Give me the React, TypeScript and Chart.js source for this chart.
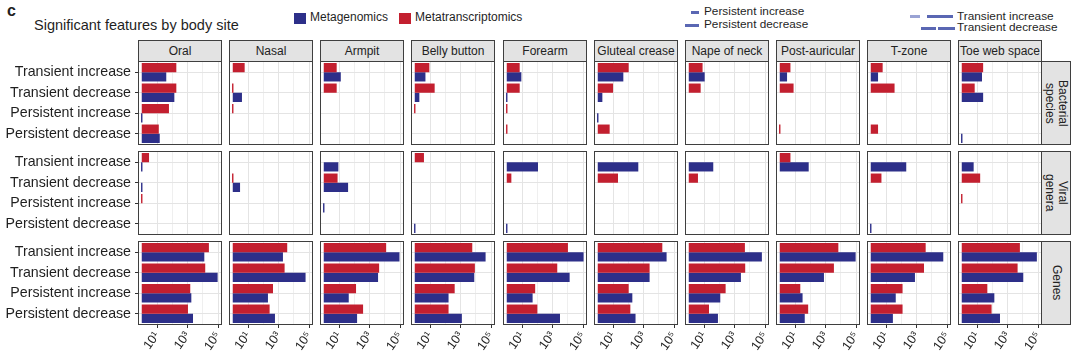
import React, { useEffect, useRef } from "react";
import { Chart, registerables } from "chart.js";
Chart.register(...registerables);

// ---------- data ----------
const categories = ["Transient increase", "Transient decrease", "Persistent increase", "Persistent decrease"];
const sites = ["Oral", "Nasal", "Armpit", "Belly button", "Forearm", "Gluteal crease", "Nape of neck", "Post-auricular", "T-zone", "Toe web space"];
const featureRows = [["Bacterial", "species"], ["Viral", "genera"], ["Genes"]];
const xTickValues = [10, 100, 1000, 10000, 100000];
const xTickLabels = ["10¹", "", "10³", "", "10⁵"];

// each inner array: [Transient increase, Transient decrease, Persistent increase, Persistent decrease] per site
const bacteriaMetagenomics = [
  [40, 135, 1, 15], [null, 4, null, null], [13, null, null, null], [5, 2, null, null], [9, 1, null, null],
  [47, 2, 1, null], [11, null, null, null], [3, null, null, null], [3, null, null, null], [21, 25, null, 1],
];
const bacteriaMetatranscriptomics = [
  [182, 182, 60, 13], [6, 1, 1, null], [7, 7, null, null], [9, 20, 1, null], [7, 7, 1, 1],
  [105, 10, null, 6], [8, 6, null, null], [5, 8, null, 1], [6, 36, null, 3], [25, 7, null, null],
];
const viralMetagenomics = [
  [1, 1, null, null], [null, 3, null, null], [9, 39, 1, null], [null, null, null, 1], [110, null, null, 1],
  [447, null, null, null], [40, null, null, null], [78, null, null, null], [209, null, null, 1], [6, null, null, null],
];
const viralMetatranscriptomics = [
  [3, null, 1, null], [null, 1, null, null], [null, 8, null, null], [4, null, null, null], [null, 2, null, null],
  [null, 21, null, null], [null, 4, null, null], [5, null, null, null], [null, 5, null, null], [null, 16, 1, null],
];
const genesMetagenomics = [
  [12300, 91200, 1740, 2240], [1910, 57500, 200, 575], [89100, 3550, 43, 151], [42700, 7760, 162, 1200],
  [105000, 12900, 49, 3020], [31600, 2450, 182, 295], [60300, 2570, 115, 81], [91200, 776, 31, 43],
  [55000, 776, 43, 28], [81300, 10500, 135, 316],
];
const genesMetatranscriptomics = [
  [24500, 14100, 1480, 1050], [3630, 2450, 427, 257], [12000, 4170, 129, 372], [5750, 8510, 407, 162],
  [10000, 2000, 72, 100], [16600, 2450, 105, 135], [4680, 4900, 257, 21], [6760, 3470, 22, 72],
  [3890, 3020, 120, 120], [6310, 4470, 47, 89],
];

const metagenomicsByRow = [bacteriaMetagenomics, viralMetagenomics, genesMetagenomics];
const metatranscriptomicsByRow = [bacteriaMetatranscriptomics, viralMetatranscriptomics, genesMetatranscriptomics];

// ---------- style / layout ----------
const BLUE = "#2d2f89";
const RED = "#c31f2f";
const GRID_MAJOR = "#e4e4e4";
const GRID_MINOR = "#efefef";
const BORDER = "#3f3f3f";
const STRIP_BG = "#e3e3e3";
const FONT = "'Liberation Sans', Arial, Helvetica, sans-serif";
const TEXT = "#1f1f1f";

const PANEL = 84;
const colLeft = (c: number) => Math.round(138 + 91.13 * c);
const ROW_TOPS = [61, 151, 241];
const STRIP_TOP = 40;
const BOTTOM_AXIS_H = 36;

function Panel({ row, col }: { row: number; col: number }) {
  const ref = useRef<HTMLCanvasElement>(null);
  const L = colLeft(col);
  const T = ROW_TOPS[row];
  const isLeft = col === 0;
  const isBottom = row === 2;
  const yAxisW = isLeft ? L + 1 : 0;
  const xAxisH = isBottom ? BOTTOM_AXIS_H : 0;
  const inner = PANEL - 2;
  const cw = yAxisW + inner;
  const ch = inner + xAxisH;
  const canvasLeft = isLeft ? 0 : L + 1;

  useEffect(() => {
    if (!ref.current) return;
    const chart = new Chart(ref.current, {
      type: "bar",
      data: {
        labels: categories,
        datasets: [
          {
            label: "Metatranscriptomics",
            data: metatranscriptomicsByRow[row][col],
            backgroundColor: RED,
            base: 1,
            minBarLength: 1.4,
            categoryPercentage: 0.9,
            barPercentage: 1,
          } as any,
          {
            label: "Metagenomics",
            data: metagenomicsByRow[row][col],
            backgroundColor: BLUE,
            base: 1,
            minBarLength: 1.4,
            categoryPercentage: 0.9,
            barPercentage: 1,
          } as any,
        ],
      },
      options: {
        indexAxis: "y",
        responsive: false,
        animation: false,
        devicePixelRatio: 1,
        layout: { padding: 0 },
        plugins: { legend: { display: false }, tooltip: { enabled: false } },
        scales: {
          x: {
            type: "logarithmic",
            position: "bottom",
            min: Math.pow(10, -0.18),
            max: Math.pow(10, 5.18),
            bounds: "data",
            afterBuildTicks: (s: any) => {
              s.ticks = xTickValues.map((v) => ({ value: v }));
            },
            afterFit: (s: any) => {
              s.height = xAxisH;
              s.paddingLeft = 0;
              s.paddingRight = 0;
            },
            ticks: {
              display: isBottom,
              autoSkip: false,
              minRotation: 55,
              maxRotation: 55,
              padding: 1,
              color: TEXT,
              font: { family: FONT, size: 12.5 },
              callback: (_v: any, i: number) => xTickLabels[i],
            },
            grid: {
              color: (ctx: any) => (ctx.index % 2 === 0 ? GRID_MAJOR : GRID_MINOR),
              lineWidth: 1,
              drawTicks: isBottom,
              tickLength: 4,
              tickColor: (ctx: any) => (ctx.index % 2 === 0 ? "#333" : "rgba(0,0,0,0)"),
            },
            border: { display: false },
          } as any,
          y: {
            type: "category",
            afterFit: (s: any) => {
              s.width = yAxisW;
              s.paddingTop = 0;
              s.paddingBottom = 0;
            },
            ticks: {
              display: isLeft,
              color: TEXT,
              padding: 4,
              font: { family: FONT, size: 14.2 },
            },
            grid: {
              offset: false,
              color: GRID_MAJOR,
              lineWidth: 1,
              drawTicks: isLeft,
              tickLength: 4,
              tickColor: "#333",
            },
            border: { display: false },
          } as any,
        },
      },
    });
    return () => chart.destroy();
  }, [row, col]);

  return (
    <>
      <canvas
        ref={ref}
        width={cw}
        height={ch}
        style={{ position: "absolute", left: canvasLeft, top: T + 1, width: cw, height: ch }}
      />
      <div
        style={{
          position: "absolute",
          left: L,
          top: T,
          width: PANEL - 2,
          height: PANEL - 2,
          border: `1px solid ${BORDER}`,
          pointerEvents: "none",
        }}
      />
    </>
  );
}

const abs = (o: React.CSSProperties): React.CSSProperties => ({ position: "absolute", ...o });

export default function App() {
  return (
    <div style={{ position: "absolute", left: 0, top: 0, width: 1080, height: 359, background: "#fff", overflow: "hidden", fontFamily: FONT, color: TEXT }}>
      <div style={abs({ left: 7, top: 3, fontSize: 16, fontWeight: 800, lineHeight: "16px" })}>c</div>
      <div style={abs({ left: 34, top: 17, fontSize: 14.5, lineHeight: "16px", whiteSpace: "nowrap" })}>Significant features by body site</div>

      {/* legend: assays */}
      <div style={abs({ left: 294, top: 13, width: 12, height: 11, background: BLUE })} />
      <div style={abs({ left: 310, top: 10, fontSize: 12, lineHeight: "14px", whiteSpace: "nowrap" })}>Metagenomics</div>
      <div style={abs({ left: 399, top: 13, width: 12, height: 11, background: RED })} />
      <div style={abs({ left: 415, top: 10, fontSize: 12, lineHeight: "14px", whiteSpace: "nowrap" })}>Metatranscriptomics</div>

      {/* legend: patterns */}
      <div style={abs({ left: 691, top: 11, width: 8, height: 3, background: "#5a67b3" })} />
      <div style={abs({ left: 704, top: 5, fontSize: 11.8, lineHeight: "13px", whiteSpace: "nowrap" })}>Persistent increase</div>
      <div style={abs({ left: 685, top: 24, width: 14, height: 3, background: "#5a67b3" })} />
      <div style={abs({ left: 704, top: 18, fontSize: 11.8, lineHeight: "13px", whiteSpace: "nowrap" })}>Persistent decrease</div>

      <div style={abs({ left: 910, top: 15, width: 10, height: 3, background: "#9aa3d4" })} />
      <div style={abs({ left: 927, top: 15, width: 26, height: 3, background: "#5a67b3" })} />
      <div style={abs({ left: 957, top: 10, fontSize: 11.8, lineHeight: "12px", whiteSpace: "nowrap" })}>Transient increase</div>
      <div style={abs({ left: 921, top: 27, width: 15, height: 3, background: "#5a67b3" })} />
      <div style={abs({ left: 938, top: 27, width: 17, height: 3, background: "#5a67b3" })} />
      <div style={abs({ left: 957, top: 21, fontSize: 11.8, lineHeight: "12px", whiteSpace: "nowrap" })}>Transient decrease</div>

      {/* column strips */}
      {sites.map((s, c) => (
        <div
          key={s}
          style={abs({
            left: colLeft(c),
            top: STRIP_TOP,
            width: PANEL - 2,
            height: ROW_TOPS[0] - STRIP_TOP - 1,
            background: STRIP_BG,
            border: `1px solid ${BORDER}`,
            fontSize: 12,
            lineHeight: `${ROW_TOPS[0] - STRIP_TOP - 1}px`,
            textAlign: "center",
            whiteSpace: "nowrap",
            color: "#222",
          })}
        >
          {s}
        </div>
      ))}

      {/* row strips */}
      {featureRows.map((lines, r) => (
        <div
          key={r}
          style={abs({
            left: colLeft(9) + PANEL - 1,
            top: ROW_TOPS[r],
            width: 28,
            height: PANEL - 2,
            background: STRIP_BG,
            border: `1px solid ${BORDER}`,
            display: "flex",
            alignItems: "center",
            justifyContent: "center",
          })}
        >
          <div style={{ writingMode: "vertical-rl", fontSize: 12, lineHeight: "13px", textAlign: "center", color: "#222" }}>
            {lines.map((l, i) => (
              <div key={i}>{l}</div>
            ))}
          </div>
        </div>
      ))}

      {[0, 1, 2].map((r) => sites.map((_, c) => <Panel key={`${r}-${c}`} row={r} col={c} />))}
    </div>
  );
}
